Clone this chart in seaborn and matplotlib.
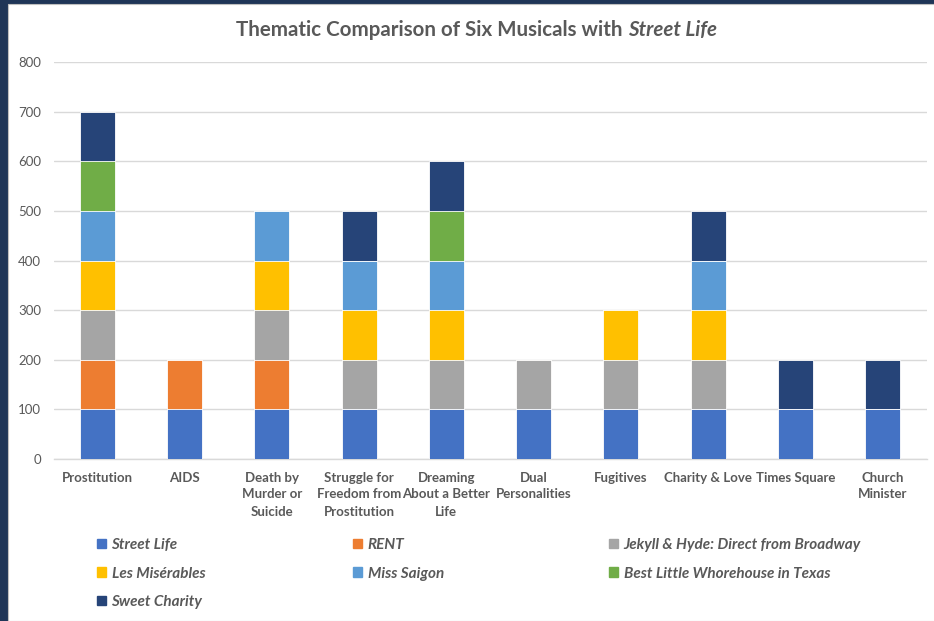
import matplotlib
matplotlib.use("Agg")
import matplotlib.pyplot as plt
import matplotlib.patches as mpatches
import seaborn as sns
import pandas as pd
import numpy as np

categories = ["Prostitution", "AIDS", "Death by\nMurder or\nSuicide",
              "Struggle for\nFreedom from\nProstitution", "Dreaming\nAbout a Better\nLife",
              "Dual\nPersonalities", "Fugitives", "Charity & Love", "Times Square",
              "Church\nMinister"]

series_names = ["Street Life", "RENT", "Jekyll & Hyde: Direct from Broadway",
                "Les Misérables", "Miss Saigon", "Best Little Whorehouse in Texas",
                "Sweet Charity"]

street_life = [100, 100, 100, 100, 100, 100, 100, 100, 100, 100]
rent        = [100, 100, 100, 0, 0, 0, 0, 0, 0, 0]
jekyll_hyde = [100, 0, 100, 100, 100, 100, 100, 100, 0, 0]
les_mis     = [100, 0, 100, 100, 100, 0, 100, 100, 0, 0]
miss_saigon = [100, 0, 100, 100, 100, 0, 0, 100, 0, 0]
best_little = [100, 0, 0, 0, 100, 0, 0, 0, 0, 0]
sweet_charity = [100, 0, 0, 100, 100, 0, 0, 100, 100, 100]

colors = ["#4472C4", "#ED7D31", "#A5A5A5", "#FFC000", "#5B9BD5", "#70AD47", "#264478"]

values = [street_life, rent, jekyll_hyde, les_mis, miss_saigon, best_little, sweet_charity]

sns.set_theme(style="white")
plt.rcParams['font.family'] = ['Lato', 'DejaVu Sans']

fig = plt.figure(figsize=(9.34, 6.21), dpi=100)
fig.patch.set_facecolor("#1F3557")
# white chart area
bg = mpatches.Rectangle((8 / 934, 0), 1, 1 - 4 / 621, transform=fig.transFigure,
                        facecolor="white", edgecolor="#BFBFBF", linewidth=0.8, zorder=-10)
fig.patches.append(bg)

ax = fig.add_axes([53.5 / 934, 1 - 459 / 621, (926.5 - 53.5) / 934, (459 - 62) / 621])
ax.set_zorder(1)
ax.set_facecolor("white")

cum = np.cumsum(np.array(values), axis=0)
# draw tallest cumulative first so smaller ones overlay
for i in range(len(series_names) - 1, -1, -1):
    df = pd.DataFrame({"category": categories, "total": cum[i]})
    sns.barplot(data=df, x="category", y="total", color=colors[i], width=0.4,
                saturation=1, ax=ax, edgecolor="white", linewidth=0.6, zorder=3)

ax.set_ylim(0, 800)
ax.set_yticks(range(0, 801, 100))
ax.set_xlim(-0.5, len(categories) - 0.5)
ax.yaxis.grid(True, color="#D9D9D9", linewidth=1.0, zorder=0)
ax.set_axisbelow(True)
for s in ["top", "right", "left"]:
    ax.spines[s].set_visible(False)
ax.spines["bottom"].set_color("#D9D9D9")
ax.spines["bottom"].set_linewidth(1.0)
ax.set_xlabel("")
ax.set_ylabel("")
ax.tick_params(axis="both", length=0, colors="#595959", labelsize=9.5)
ax.tick_params(axis="y", pad=9)
ax.tick_params(axis="x", pad=9)
for lbl in ax.get_xticklabels():
    lbl.set_fontweight("bold")
    lbl.set_linespacing(1.5)
    lbl.set_color("#595959")
for lbl in ax.get_yticklabels():
    lbl.set_color("#595959")

# title: bold with italic part
t1 = fig.text(0.0, 1 - 30 / 621, "Thematic Comparison of Six Musicals with ", fontsize=14.8,
              fontweight="bold", color="#595959", va="center", ha="left")
t2 = fig.text(0.0, 1 - 30 / 621, "Street Life", fontsize=14.8, fontweight="bold",
              fontstyle="italic", color="#595959", va="center", ha="left")
fig.canvas.draw()
r = fig.canvas.get_renderer()
w1 = t1.get_window_extent(r).width
w2 = t2.get_window_extent(r).width
start = (476.5 - (w1 + w2) / 2) / 934
t1.set_x(start)
t2.set_x(start + w1 / 934)

# legend: three columns, equally spaced
columns = [[0, 3, 6], [1, 4], [2, 5]]
col_x = [97, 353, 609]
for idxs, x in zip(columns, col_x):
    handles = [mpatches.Patch(color=colors[i], label=series_names[i]) for i in idxs]
    leg = fig.legend(handles=handles, loc="upper left", bbox_to_anchor=(x / 934, 1 - 538 / 621),
                     ncol=1, frameon=False, handlelength=0.6, handleheight=0.6, handletextpad=0.35,
                     labelspacing=0.95, borderpad=0, borderaxespad=0,
                     prop={"family": "Lato", "style": "italic", "weight": "bold", "size": 11})
    for txt in leg.get_texts():
        txt.set_color("#595959")

fig.savefig("out.png", dpi=100, facecolor=fig.get_facecolor())
